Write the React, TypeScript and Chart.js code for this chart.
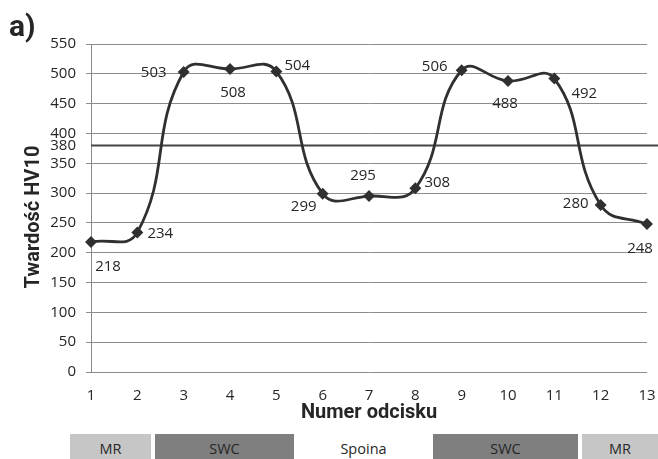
import React, { useEffect, useRef } from 'react';
import { Chart, registerables } from 'chart.js';

Chart.register(...registerables);

// ---- data ----
const categories = ['1', '2', '3', '4', '5', '6', '7', '8', '9', '10', '11', '12', '13'];
const hardness = [218, 234, 503, 508, 504, 299, 295, 308, 506, 488, 492, 280, 248];
const yTickValues = [0, 50, 100, 150, 200, 250, 300, 350, 400, 450, 500, 550];
const thresholdValue = 380;
const xTitle = 'Numer odcisku';
const yTitle = 'Twardość HV10';
const panelLabel = 'a)';
const zoneNames = ['MR', 'SWC', 'Spoina', 'SWC', 'MR'];

// ---- styles ----
const labelOffsets: [number, number][] = [
  [17, 25], [23, 1], [-30, 1], [3, 24], [21, -6], [-19, 13], [-6, -20],
  [22, -6], [-27, -4], [-3, 23], [30, 15], [-25, -1], [-7, 25],
];
const zoneStyles = [
  { left: 70, width: 81, bg: '#c6c6c6' },
  { left: 155, width: 139, bg: '#7f7f7f' },
  { left: 294, width: 139, bg: '#ffffff' },
  { left: 433, width: 145, bg: '#7f7f7f' },
  { left: 582, width: 76, bg: '#c6c6c6' },
];
const FONT = "'Open Sans', 'Liberation Sans', sans-serif";
const TITLE_FONT = "Roboto, 'Liberation Sans', sans-serif";
const GRID = '#8c8c8c';
const INK = '#262626';

export default function App() {
  const ref = useRef<HTMLCanvasElement | null>(null);

  useEffect(() => {
    if (!ref.current) return;

    const thresholdPlugin = {
      id: 'threshold',
      beforeDatasetsDraw(chart: any) {
        const { ctx, chartArea, scales } = chart;
        const y = scales.y.getPixelForValue(thresholdValue);
        ctx.save();
        ctx.strokeStyle = '#454545';
        ctx.lineWidth = 2;
        ctx.beginPath();
        ctx.moveTo(chartArea.left, y);
        ctx.lineTo(chart.width, y);
        ctx.stroke();
        ctx.restore();
      },
    };

    const labelsPlugin = {
      id: 'pointLabels',
      afterDatasetsDraw(chart: any) {
        const { ctx } = chart;
        const meta = chart.getDatasetMeta(0);
        ctx.save();
        ctx.font = `15px ${FONT}`;
        ctx.fillStyle = INK;
        ctx.textAlign = 'center';
        ctx.textBaseline = 'middle';
        meta.data.forEach((pt: any, i: number) => {
          const [dx, dy] = labelOffsets[i];
          ctx.fillText(String(hardness[i]), pt.x + dx, pt.y + dy);
        });
        ctx.restore();
      },
    };

    const yTitlePlugin = {
      id: 'yTitle',
      afterDraw(chart: any) {
        const { ctx } = chart;
        ctx.save();
        ctx.translate(33.5, 217);
        ctx.rotate(-Math.PI / 2);
        ctx.font = `bold 20px ${TITLE_FONT}`;
        ctx.fillStyle = INK;
        ctx.textAlign = 'center';
        ctx.textBaseline = 'middle';
        ctx.fillText(yTitle, 0, 0);
        ctx.restore();
      },
    };

    const chart = new Chart(ref.current, {
      type: 'line',
      data: {
        labels: categories,
        datasets: [
          {
            data: hardness,
            borderColor: '#303030',
            backgroundColor: '#303030',
            borderWidth: 2.8,
            tension: 0.45,
            pointStyle: 'rectRot',
            pointRadius: 4,
            pointBackgroundColor: '#303030',
            pointBorderColor: '#303030',
            fill: false,
          },
        ],
      },
      options: {
        animation: false,
        responsive: false,
        events: [],
        layout: { padding: { top: 44, right: 11, left: 0, bottom: 0 } },
        plugins: {
          legend: { display: false },
          tooltip: { enabled: false },
        },
        scales: {
          x: {
            type: 'category',
            offset: false,
            grid: { display: false, drawTicks: true, tickLength: 13 },
            border: { display: false },
            ticks: {
              padding: 2,
              color: INK,
              font: { family: FONT, size: 15 },
              maxRotation: 0,
              autoSkip: false,
            },
            title: {
              display: true,
              text: xTitle,
              color: INK,
              font: { family: TITLE_FONT, size: 20, weight: 'bold' },
              padding: { top: 0, bottom: 5 },
            },
            afterFit(scale: any) {
              scale.height = 58;
            },
          },
          y: {
            min: 0,
            max: 550,
            grid: {
              color: (c: any) => (c.tick && c.tick.value === thresholdValue ? 'rgba(0,0,0,0)' : GRID),
              lineWidth: 1,
              drawTicks: true,
              tickLength: 5,
            },
            border: { display: true, color: GRID, width: 1 },
            ticks: {
              autoSkip: false,
              padding: 10,
              color: INK,
              font: { family: FONT, size: 15 },
            },
            afterBuildTicks(scale: any) {
              scale.ticks = [...yTickValues, thresholdValue]
                .sort((a, b) => a - b)
                .map((v) => ({ value: v }));
            },
            afterFit(scale: any) {
              scale.width = 91;
            },
          },
        },
      },
      plugins: [thresholdPlugin, labelsPlugin, yTitlePlugin],
    });

    return () => chart.destroy();
  }, []);

  return (
    <div style={{ position: 'fixed', left: 0, top: 0, width: 658, height: 459, background: '#fff', overflow: 'hidden' }}>
      <canvas ref={ref} width={658} height={430} style={{ position: 'absolute', left: 0, top: 0 }} />
      <div
        style={{
          position: 'absolute',
          left: 9,
          top: 8,
          font: `bold 30px ${TITLE_FONT}`,
          color: INK,
          lineHeight: '36px',
        }}
      >
        {panelLabel}
      </div>
      {zoneNames.map((name, i) => (
        <div
          key={i}
          style={{
            position: 'absolute',
            left: zoneStyles[i].left,
            width: zoneStyles[i].width,
            top: 434,
            height: 25,
            background: zoneStyles[i].bg,
            display: 'flex',
            alignItems: 'center',
            justifyContent: 'center',
            paddingTop: 4,
            boxSizing: 'border-box',
            font: `14.5px ${FONT}`,
            color: INK,
          }}
        >
          {name}
        </div>
      ))}
    </div>
  );
}
